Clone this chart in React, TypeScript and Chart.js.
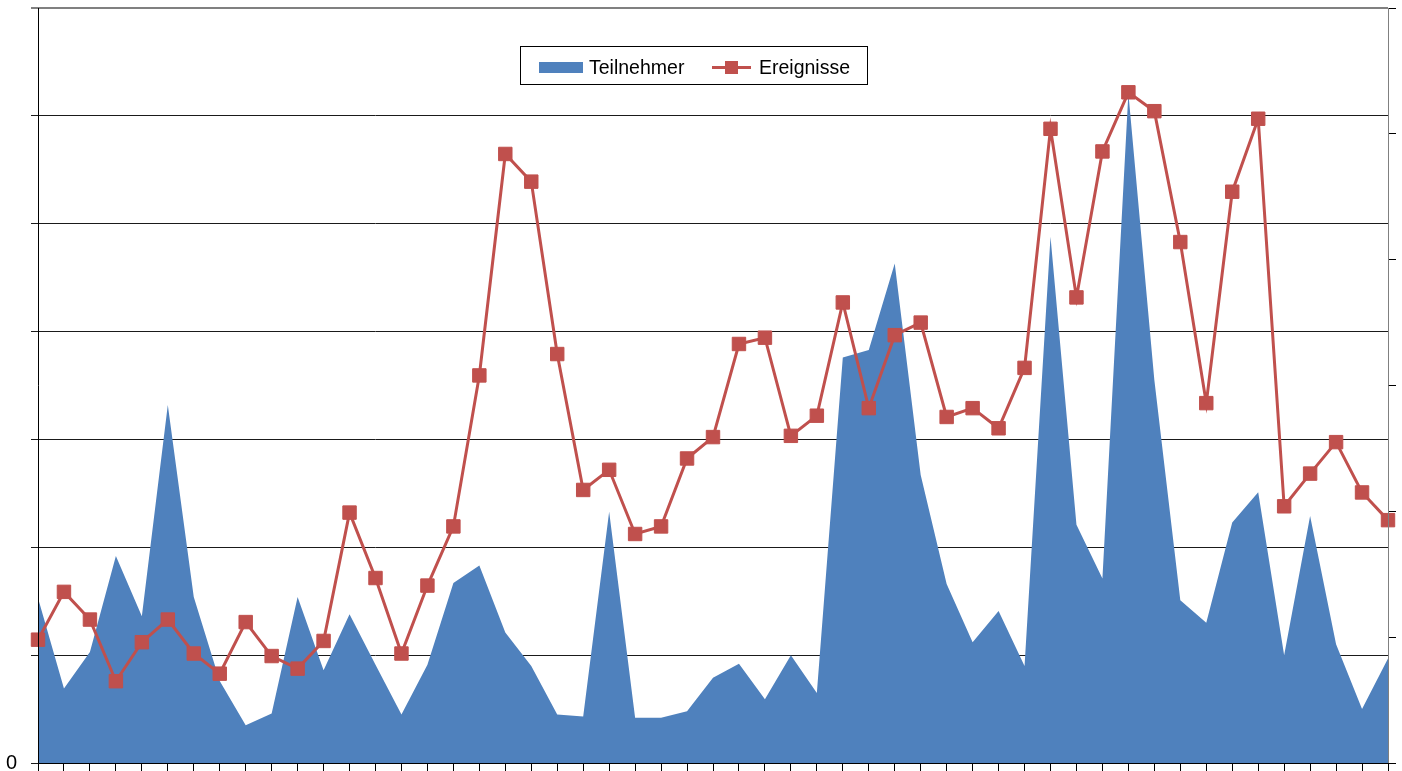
import React, { useEffect, useRef } from "react";
import { Chart, registerables } from "chart.js";

Chart.register(...registerables);

// ---- data ----
const CATEGORIES = [
  "1", "2", "3", "4", "5", "6", "7", "8", "9", "10",
  "11", "12", "13", "14", "15", "16", "17", "18", "19", "20",
  "21", "22", "23", "24", "25", "26", "27", "28", "29", "30",
  "31", "32", "33", "34", "35", "36", "37", "38", "39", "40",
  "41", "42", "43", "44", "45", "46", "47", "48", "49", "50",
  "51", "52", "53",
];

const SERIES_NAMES = ["Teilnehmer", "Ereignisse"];

// left axis (area)
const TEILNEHMER = [
  15.3, 6.9, 10.3, 19.2, 13.6, 33.2, 15.4, 7.6, 3.5, 4.6,
  15.4, 8.6, 13.8, 9.1, 4.5, 9.1, 16.7, 18.3, 12.1, 9.0,
  4.5, 4.3, 23.3, 4.2, 4.2, 4.8, 7.9, 9.2, 5.9, 10.0,
  6.5, 37.6, 38.3, 46.3, 26.7, 16.6, 11.2, 14.1, 9.0, 48.8,
  22.1, 17.1, 62.1, 35.5, 15.1, 13.0, 22.3, 25.1, 10.0, 22.9,
  11.0, 5.0, 9.7,
];

// right axis (line)
const EREIGNISSE = [
  9.8, 13.6, 11.4, 6.5, 9.6, 11.4, 8.7, 7.1, 11.2, 8.5,
  7.5, 9.7, 19.9, 14.7, 8.7, 14.1, 18.8, 30.8, 48.4, 46.2,
  32.5, 21.7, 23.3, 18.2, 18.8, 24.2, 25.9, 33.3, 33.8, 26.0,
  27.6, 36.6, 28.2, 34.0, 35.0, 27.5, 28.2, 26.6, 31.4, 50.4,
  37.0, 48.6, 53.3, 51.8, 41.4, 28.6, 45.4, 51.2, 20.4, 23.0,
  25.5, 21.5, 19.3,
];

const LEFT_MAX = 70;
const RIGHT_MAX = 60;
const STEP = 10;
const LEFT_SHOWN_TICKS = [0];

const BLUE = "#4F81BD";
const RED = "#C0504D";
const FONT = "'Liberation Sans', Arial, sans-serif";

const zeroPadding = (scale: any) => {
  scale.paddingTop = 0;
  scale.paddingBottom = 0;
  scale.paddingLeft = 0;
  scale.paddingRight = 0;
};

const axisLinesPlugin = {
  id: "axisLines",
  afterDatasetsDraw(chart: any) {
    const { ctx, chartArea } = chart;
    ctx.save();
    ctx.strokeStyle = "#000";
    ctx.lineWidth = 1;
    ctx.beginPath();
    ctx.moveTo(chartArea.left + 0.5, chartArea.top);
    ctx.lineTo(chartArea.left + 0.5, chartArea.bottom + 0.5);
    ctx.lineTo(chartArea.right, chartArea.bottom + 0.5);
    ctx.stroke();
    ctx.strokeStyle = "#808080";
    ctx.beginPath();
    ctx.moveTo(chartArea.right + 0.5, chartArea.top);
    ctx.lineTo(chartArea.right + 0.5, chartArea.bottom);
    ctx.stroke();
    ctx.restore();
  },
};

const boxLegendPlugin = {
  id: "boxLegend",
  afterDraw(chart: any) {
    const ctx = chart.ctx;
    const ds = chart.data.datasets;
    ctx.save();
    const x0 = 520.5, y0 = 46.5, w = 347, h = 38;
    ctx.fillStyle = "#fff";
    ctx.fillRect(x0, y0, w, h);
    ctx.strokeStyle = "#000";
    ctx.lineWidth = 1;
    ctx.strokeRect(x0, y0, w, h);

    ctx.font = `19.5px ${FONT}`;
    ctx.textBaseline = "alphabetic";
    ctx.textAlign = "left";

    // area item
    ctx.fillStyle = ds[0].backgroundColor;
    ctx.fillRect(539, 62, 44, 11);
    ctx.fillStyle = "#000";
    ctx.fillText(ds[0].label, 589, 74);

    // line item
    ctx.strokeStyle = ds[1].borderColor;
    ctx.lineWidth = 3;
    ctx.beginPath();
    ctx.moveTo(712, 67.5);
    ctx.lineTo(751, 67.5);
    ctx.stroke();
    ctx.fillStyle = ds[1].borderColor;
    ctx.fillRect(725, 61, 13, 13);
    ctx.fillStyle = "#000";
    ctx.fillText(ds[1].label, 759, 74);
    ctx.restore();
  },
};

export default function App() {
  const canvasRef = useRef<HTMLCanvasElement | null>(null);

  useEffect(() => {
    document.body.style.margin = "0";
    const canvas = canvasRef.current;
    if (!canvas) return;
    const chart = new Chart(canvas, {
      type: "line",
      data: {
        labels: CATEGORIES,
        datasets: [
          {
            label: SERIES_NAMES[0],
            data: TEILNEHMER,
            yAxisID: "y",
            fill: "origin",
            backgroundColor: BLUE,
            borderColor: BLUE,
            borderWidth: 0,
            pointRadius: 0,
            pointHoverRadius: 0,
            tension: 0,
            order: 2,
          },
          {
            label: SERIES_NAMES[1],
            data: EREIGNISSE,
            yAxisID: "y1",
            fill: false,
            clip: false,
            backgroundColor: RED,
            borderColor: RED,
            borderWidth: 3,
            pointStyle: "rect",
            pointRadius: 9.5,
            pointBorderWidth: 1,
            pointBackgroundColor: RED,
            pointBorderColor: RED,
            tension: 0,
            order: 1,
          },
        ],
      },
      options: {
        animation: false,
        responsive: true,
        maintainAspectRatio: false,
        layout: { autoPadding: false, padding: { top: 8, left: 0, right: 0, bottom: 0 } },
        plugins: {
          legend: { display: false },
          tooltip: { enabled: false },
        },
        scales: {
          x: {
            type: "category",
            offset: false,
            grid: {
              display: true,
              drawOnChartArea: false,
              drawTicks: true,
              tickLength: 8,
              color: "#000",
            },
            border: { display: false },
            ticks: { display: false },
            afterFit: (scale: any) => {
              scale.height = 8;
              zeroPadding(scale);
            },
          },
          y: {
            type: "linear",
            position: "left",
            min: 0,
            max: LEFT_MAX,
            ticks: {
              stepSize: STEP,
              padding: 14,
              color: "#000",
              font: { family: FONT, size: 20 },
              callback: (v: any) => (LEFT_SHOWN_TICKS.includes(Number(v)) ? String(v) : ""),
            },
            grid: {
              drawTicks: true,
              tickLength: 7,
              color: (c: any) => (c.tick && c.tick.value === LEFT_MAX ? "#808080" : "#1a1a1a"),
              lineWidth: (c: any) => (c.tick && c.tick.value === LEFT_MAX ? 2 : 1),
            },
            border: { display: false },
            afterFit: (scale: any) => {
              scale.width = 38;
              zeroPadding(scale);
            },
          },
          y1: {
            type: "linear",
            position: "right",
            min: 0,
            max: RIGHT_MAX,
            ticks: {
              stepSize: STEP,
              callback: () => "",
            },
            grid: {
              drawOnChartArea: false,
              drawTicks: true,
              tickLength: 8,
              color: "#000",
            },
            border: { display: false },
            afterFit: (scale: any) => {
              scale.width = 14;
              zeroPadding(scale);
            },
          },
        },
      },
      plugins: [axisLinesPlugin, boxLegendPlugin],
    });
    return () => chart.destroy();
  }, []);

  return (
    <div style={{ position: "fixed", left: 0, top: 0, width: 1402, height: 771, background: "#fff" }}>
      <canvas ref={canvasRef} />
    </div>
  );
}
